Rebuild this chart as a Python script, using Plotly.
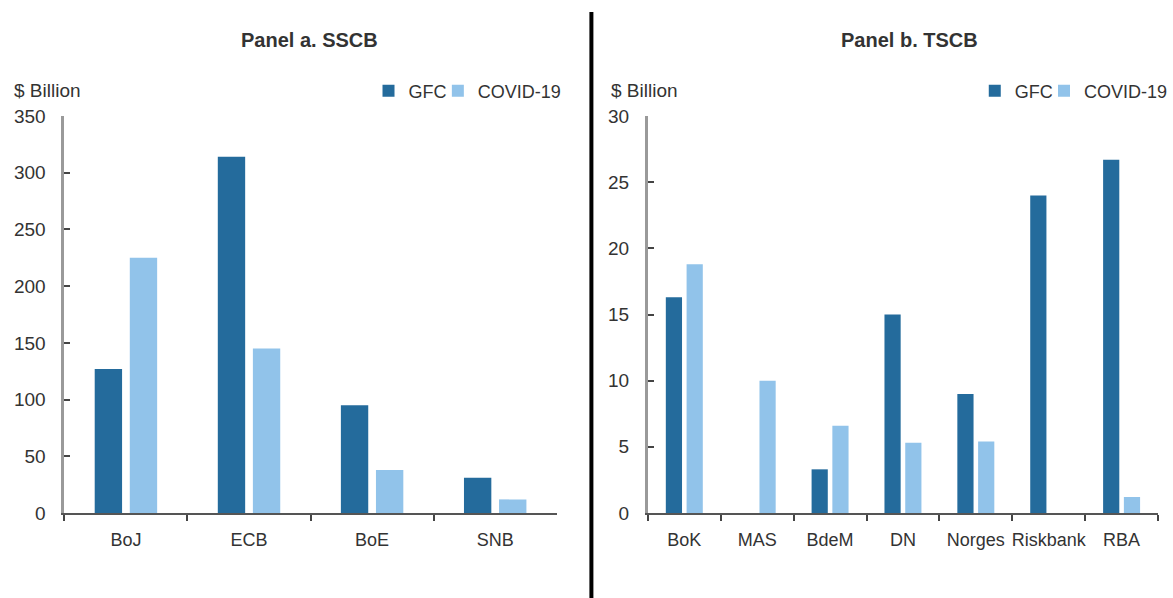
import plotly.graph_objects as go

# ---- data ----
cats_a = ["BoJ", "ECB", "BoE", "SNB"]
gfc_a = [127, 314, 95, 31]
covid_a = [225, 145, 38, 12]

cats_b = ["BoK", "MAS", "BdeM", "DN", "Norges", "Riskbank", "RBA"]
gfc_b = [16.3, None, 3.3, 15.0, 9.0, 24.0, 26.7]
covid_b = [18.8, 10.0, 6.6, 5.3, 5.4, None, 1.2]

title_a = "Panel a. SSCB"
title_b = "Panel b. TSCB"
unit_label = "$ Billion"
series_names = ["GFC", "COVID-19"]

# ---- styles ----
C_GFC = "#246B9C"
C_COV = "#91C3EA"
FONT = "Liberation Sans, Arial, sans-serif"
TXT = "#333333"
W, H = 1173, 598

def px_x(p):
    return p / W

def px_y(p):
    return 1 - p / H

fig = go.Figure()
fig.add_trace(go.Bar(x=cats_a, y=gfc_a, name=series_names[0], marker_color=C_GFC,
                     xaxis="x", yaxis="y", legend="legend"))
fig.add_trace(go.Bar(x=cats_a, y=covid_a, name=series_names[1], marker_color=C_COV,
                     xaxis="x", yaxis="y", legend="legend2"))
fig.add_trace(go.Bar(x=cats_b, y=gfc_b, name=series_names[0], marker_color=C_GFC,
                     xaxis="x2", yaxis="y2", legend="legend3"))
fig.add_trace(go.Bar(x=cats_b, y=covid_b, name=series_names[1], marker_color=C_COV,
                     xaxis="x2", yaxis="y2", legend="legend4"))
fig.update_traces(marker_line_width=0)

ydom = [px_y(513), px_y(116)]

xcommon = dict(type="category", showline=True, linecolor="#555555", linewidth=2,
               ticks="outside", tickson="boundaries", ticklen=6, tickwidth=2,
               tickcolor="#444444", showgrid=False, zeroline=False, automargin=False,
               tickangle=0,
               tickfont=dict(family=FONT, size=18, color=TXT), ticklabelstandoff=9)
ycommon = dict(showline=True, linecolor="#9a9a9a", linewidth=3, ticks="inside",
               ticklen=6, tickwidth=2, tickcolor="#444444", showgrid=False,
               zeroline=False, automargin=False,
               tickfont=dict(family=FONT, size=19, color=TXT),
               ticklabelstandoff=12)

legcommon = dict(orientation="h", xanchor="left", yanchor="middle",
                 font=dict(family=FONT, size=18, color=TXT), bgcolor="rgba(0,0,0,0)",
                 itemwidth=30)

fig.update_layout(
    width=W, height=H,
    paper_bgcolor="white", plot_bgcolor="white",
    margin=dict(l=0, r=0, t=0, b=0),
    barmode="group", bargap=0.43, bargroupgap=0.22,
    font=dict(family=FONT, color=TXT),
    xaxis=dict(domain=[px_x(65), px_x(562)], anchor="y", **xcommon),
    yaxis=dict(domain=ydom, anchor="x", range=[0, 350], dtick=50, **ycommon),
    xaxis2=dict(domain=[px_x(654), px_x(1169)], anchor="y2", **xcommon),
    yaxis2=dict(domain=ydom, anchor="x2", range=[0, 30], dtick=5, **ycommon),
    legend=dict(x=px_x(372), y=px_y(91), **legcommon),
    legend2=dict(x=px_x(442), y=px_y(91), **legcommon),
    legend3=dict(x=px_x(984), y=px_y(91), **legcommon),
    legend4=dict(x=px_x(1054), y=px_y(91), **legcommon),
    showlegend=True,
)

annotations = [
    dict(text="<b>" + title_a + "</b>", x=px_x(312), y=px_y(40), xref="paper", yref="paper",
         showarrow=False, xanchor="center", yanchor="middle",
         font=dict(family=FONT, size=20, color=TXT)),
    dict(text="<b>" + title_b + "</b>", x=px_x(918), y=px_y(40), xref="paper", yref="paper",
         showarrow=False, xanchor="center", yanchor="middle",
         font=dict(family=FONT, size=20, color=TXT)),
    dict(text=unit_label, x=px_x(12), y=px_y(90), xref="paper", yref="paper",
         showarrow=False, xanchor="left", yanchor="middle",
         font=dict(family=FONT, size=19, color=TXT)),
    dict(text=unit_label, x=px_x(615), y=px_y(90), xref="paper", yref="paper",
         showarrow=False, xanchor="left", yanchor="middle",
         font=dict(family=FONT, size=19, color=TXT)),
]
fig.update_layout(annotations=annotations)

fig.add_shape(type="line", xref="paper", yref="paper",
              x0=px_x(597), x1=px_x(597), y0=0, y1=px_y(12),
              line=dict(color="black", width=4))

fig.write_html(
    "out.html",
    config={"displayModeBar": False},
    post_script=("document.body.style.margin='0';"
                 "document.body.style.overflow='hidden';"
                 "document.documentElement.style.overflow='hidden';"),
)
